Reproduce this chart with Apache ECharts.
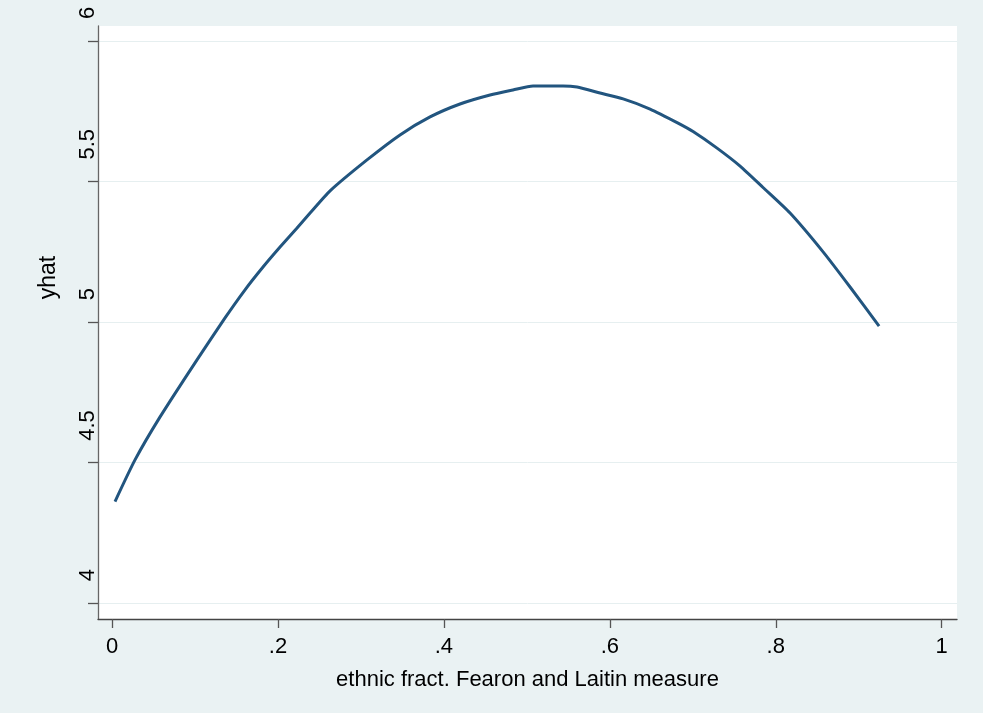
<!DOCTYPE html>
<html>
<head>
<meta charset="utf-8">
<script src="https://cdn.jsdelivr.net/npm/echarts@6/dist/echarts.min.js"></script>
<style>
  html, body { margin: 0; padding: 0; background: #eaf2f3; }
  #chart { width: 983px; height: 713px; }
</style>
</head>
<body>
<div id="chart"></div>
<script>
// Fitted values
const xValues = [0.0036, 0.0277, 0.0579, 0.1024, 0.1362, 0.1603, 0.182, 0.2025, 0.223, 0.2387,
  0.2628, 0.3073, 0.3471, 0.3833, 0.4194, 0.4556, 0.4833, 0.5074, 0.5436, 0.5605,
  0.5882, 0.616, 0.6485, 0.6822, 0.7003, 0.7292, 0.757, 0.7846, 0.8172, 0.857, 0.8895, 0.9245];
const yhatValues = [4.362, 4.510, 4.663, 4.866, 5.015, 5.115, 5.196, 5.267, 5.335, 5.388,
  5.467, 5.577, 5.666, 5.730, 5.776, 5.808, 5.826, 5.840, 5.840, 5.836,
  5.815, 5.794, 5.758, 5.708, 5.678, 5.619, 5.555, 5.479, 5.388, 5.250, 5.125, 4.986];

const xTickValues = [0, 0.2, 0.4, 0.6, 0.8, 1];
const xTickLabels = ['0', '.2', '.4', '.6', '.8', '1'];
const yTickValues = [4, 4.5, 5, 5.5, 6];
const yTickLabels = ['4', '4.5', '5', '5.5', '6'];

const xTitle = 'ethnic fract. Fearon and Laitin measure';
const yTitle = 'yhat';

const points = xValues.map((x, i) => [x, yhatValues[i]]);

function labelFor(values, labels) {
  return function (v) {
    for (let i = 0; i < values.length; i++) {
      if (Math.abs(values[i] - v) < 1e-9) return labels[i];
    }
    return '';
  };
}

const font = 'Liberation Sans, Arial, sans-serif';
const chart = echarts.init(document.getElementById('chart'), null, { renderer: 'canvas' });

chart.setOption({
  backgroundColor: '#eaf2f3',
  animation: false,
  grid: {
    left: 98, right: 26, top: 26, bottom: 94,
    show: true, backgroundColor: '#ffffff', borderWidth: 0,
    containLabel: false
  },
  xAxis: {
    type: 'value',
    min: -0.0169,
    max: 1.0184,
    name: xTitle,
    nameLocation: 'middle',
    nameGap: 50,
    nameTextStyle: { color: '#000', fontSize: 22, fontFamily: font },
    axisLine: { show: true, onZero: false, lineStyle: { color: '#444', width: 1.3 } },
    axisTick: { show: true, length: 9, customValues: xTickValues, lineStyle: { color: '#555', width: 1.3 } },
    axisLabel: {
      show: true, customValues: xTickValues, margin: 17,
      color: '#000', fontSize: 22, fontFamily: font,
      formatter: labelFor(xTickValues, xTickLabels)
    },
    splitLine: { show: false }
  },
  yAxis: {
    type: 'value',
    min: 3.9442,
    max: 6.0533,
    name: yTitle,
    nameLocation: 'middle',
    nameGap: 38,
    nameTextStyle: { color: '#000', fontSize: 23, fontFamily: font, padding: [0, 0, 0, 90] },
    axisLine: { show: true, onZero: false, lineStyle: { color: '#666', width: 1.3 } },
    axisTick: { show: true, length: 10, customValues: yTickValues, lineStyle: { color: '#555', width: 1.3 } },
    axisLabel: {
      show: true, customValues: yTickValues, margin: -1, rotate: 90,
      align: 'left', verticalAlign: 'bottom', padding: [0, 0, 0, 22],
      color: '#000', fontSize: 22, fontFamily: font,
      formatter: labelFor(yTickValues, yTickLabels)
    },
    splitLine: { show: true, lineStyle: { color: '#e6eff0', width: 1 } }
  },
  series: [{
    type: 'line',
    data: points,
    smooth: 0.2,
    showSymbol: false,
    symbol: 'none',
    lineStyle: { color: '#22557f', width: 3 },
    z: 3
  }]
});
</script>
</body>
</html>
